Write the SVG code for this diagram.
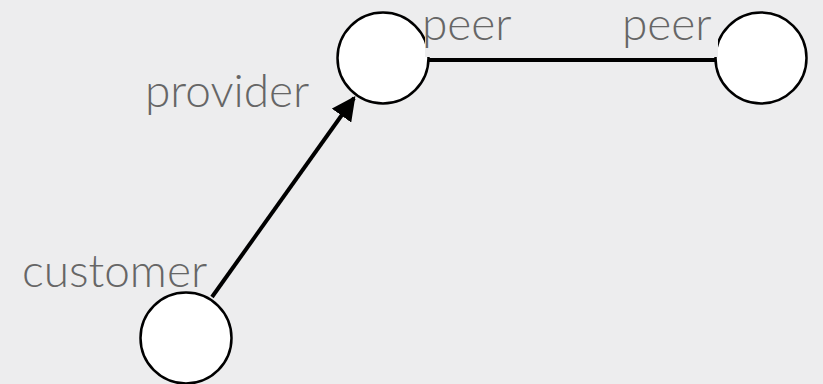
<svg xmlns="http://www.w3.org/2000/svg" width="823" height="384" viewBox="0 0 823 384">
  <defs>
    <style>
      .node { fill: #ffffff; stroke: #000000; stroke-width: 2.5; }
      .edge { stroke: #000000; stroke-width: 4; fill: none; }
      .label { font-family: Lato, "Open Sans", sans-serif; font-weight: 300; font-size: 46px; fill: #666666; }
      .label-bg { fill: #ededee; }
    </style>
    <marker id="arrow" viewBox="0 0 10 10" refX="9" refY="5" markerWidth="6" markerHeight="6" markerUnits="strokeWidth" orient="auto">
      <path d="M0,0 L10,5 L0,10 z" fill="#000000"/>
    </marker>
  </defs>
  <rect x="0" y="0" width="823" height="384" fill="#ededee"/>

  <g id="connectors">
    <line class="edge" x1="212" y1="297" x2="354" y2="98" marker-end="url(#arrow)"/>
    <line class="edge" x1="429" y1="60" x2="715" y2="60"/>
  </g>

  <g id="node-provider">
    <circle class="node" cx="383" cy="58" r="45.5"/>
  </g>
  <g id="node-peer">
    <circle class="node" cx="761" cy="58" r="45.5"/>
  </g>
  <g id="node-customer">
    <circle class="node" cx="186" cy="338" r="45.5"/>
  </g>

  <g id="labels">
    <text class="label" x="145" y="107">provider</text>
    <rect class="label-bg" x="425" y="0" width="88" height="57"/>
    <text class="label" x="422" y="40">peer</text>
    <rect class="label-bg" x="622" y="0" width="96" height="57"/>
    <text class="label" x="622" y="40">peer</text>
    <text class="label" x="22" y="287">customer</text>
  </g>
</svg>
